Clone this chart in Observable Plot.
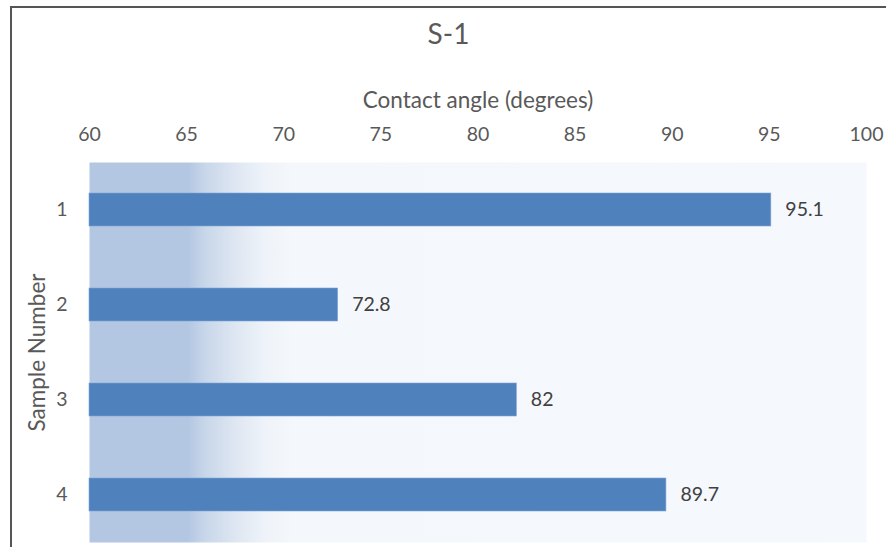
<!DOCTYPE html>
<html>
<head>
<meta charset="utf-8">
<script src="https://cdn.jsdelivr.net/npm/d3@7"></script>
<script src="https://cdn.jsdelivr.net/npm/@observablehq/plot@0.6"></script>
<style>
  html, body { margin: 0; padding: 0; background: #fff; }
  #wrap { position: relative; width: 886px; height: 547px; overflow: hidden; }
  #frame { position: absolute; left: 10px; top: 6px; width: 1000px; height: 1000px;
           border-left: 2px solid #555; border-top: 2px solid #555; box-sizing: border-box; }
  #chart { position: absolute; left: 0; top: 0; }
</style>
</head>
<body>
<div id="wrap"><div id="frame"></div><div id="chart"></div></div>
<script>
const samples = ["1", "2", "3", "4"];
const angles = [95.1, 72.8, 82, 89.7];
const xTicks = [60, 65, 70, 75, 80, 85, 90, 95, 100];
const title = "S-1";
const xLabel = "Contact angle (degrees)";
const yLabel = "Sample Number";

const data = samples.map((s, i) => ({sample: s, angle: angles[i]}));
const font = "Lato, 'Open Sans', sans-serif";

const plot = Plot.plot({
  width: 886,
  height: 547,
  marginLeft: 89,
  marginRight: 20,
  marginTop: 162,
  marginBottom: 5,
  style: {fontFamily: font, background: "transparent", overflow: "visible"},
  x: {domain: [60, 100], ticks: xTicks},
  y: {domain: samples, paddingInner: 0.65, paddingOuter: 0.325},
  marks: [
    Plot.frame({fill: "url(#bggrad)", stroke: null}),
    Plot.axisX({anchor: "top", ticks: xTicks, tickSize: 0, tickPadding: 22, fontSize: 19.5, color: "#595959", label: null}),
    Plot.axisY({anchor: "left", tickSize: 0, tickPadding: 22, fontSize: 19.5, color: "#595959", label: null}),
    Plot.barX(data, {x1: 60, x2: "angle", y: "sample", fill: "#4f81bd", stroke: "#7fa5d6", strokeWidth: 0.6}),
    Plot.text(data, {x: "angle", y: "sample", text: d => String(d.angle), textAnchor: "start", dx: 14, fontSize: 19.5, fill: "#404040"}),
    Plot.text([title], {frameAnchor: "top", dx: -29.5, dy: -127, text: d => d, fontSize: 28, fill: "#595959", lineAnchor: "middle"}),
    Plot.text([xLabel], {frameAnchor: "top", dy: -62, text: d => d, fontSize: 22.5, fill: "#595959", lineAnchor: "middle"}),
    Plot.text([yLabel], {frameAnchor: "left", dx: -52, rotate: -90, text: d => d, fontSize: 22.5, fill: "#595959", textAnchor: "middle", lineAnchor: "middle"})
  ]
});

const ns = "http://www.w3.org/2000/svg";
const defs = document.createElementNS(ns, "defs");
defs.innerHTML = `<linearGradient id="bggrad" x1="0" y1="0" x2="1" y2="0">
  <stop offset="0" stop-color="#b3c6e2"/>
  <stop offset="0.126" stop-color="#b3c6e2"/>
  <stop offset="0.15" stop-color="#c9d7ea"/>
  <stop offset="0.19" stop-color="#dfe7f2"/>
  <stop offset="0.225" stop-color="#eef3f9"/>
  <stop offset="0.26" stop-color="#f4f7fb"/>
  <stop offset="1" stop-color="#f5f8fc"/>
</linearGradient>`;
plot.insertBefore(defs, plot.firstChild);
document.getElementById("chart").appendChild(plot);
</script>
</body>
</html>
